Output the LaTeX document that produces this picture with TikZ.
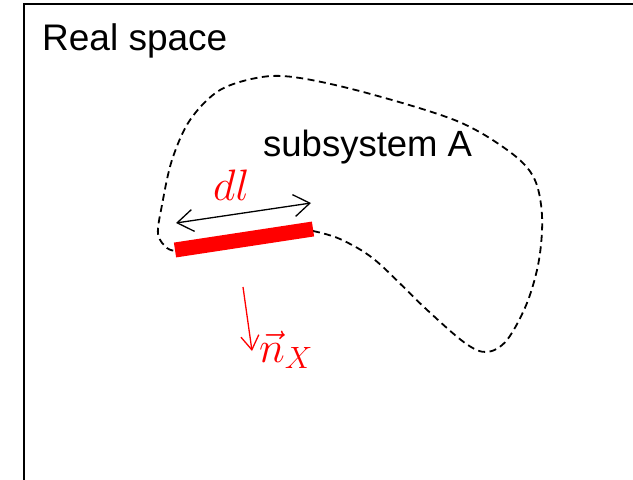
\RequirePackage{fix-cm}
\documentclass[tikz,border=0pt]{standalone}
\usepackage{fontspec}
\setmainfont{Liberation Sans}
\usetikzlibrary{arrows.meta}
\tikzset{
  lbl/.style={inner sep=0pt, anchor=base west, font=\fontsize{36.5}{40}\selectfont},
  mlbl/.style={inner sep=0pt, anchor=base west, text=red, font=\fontsize{44}{48}\selectfont},
  boundary/.style={dash pattern=on 7pt off 4.5pt, line width=1.8pt},
}
\begin{document}
\begin{tikzpicture}[x=1pt,y=-1pt]
\useasboundingbox (0,0) rectangle (633,480);
% frame
\coordinate (fb) at (24,490);
\coordinate (ftl) at (24,4);
\coordinate (ftr) at (645,4);
\draw[line width=2pt] (fb) -- (ftl) -- (ftr);
% labels
\node[lbl, font=\fontsize{37}{40}\selectfont] (real) at (42,50) {Real space};
\node[lbl] (sub) at (263,156) {subsystem A};
% boundary curve
\draw[boundary] plot[smooth, tension=0.55] coordinates {
 (313,231) (340,239) (375,260) (425,308) (465,343) (487,352)
 (507,340) (527,303) (539,260) (542,215) (534,178) (510,152)
 (457,121) (367,93) (300,78) (262,77) (220,90) (190,120) (172,160)
 (162,205) (158,234) (167,248) (176,251)};
% red bar
\coordinate (barL) at (175,250);
\coordinate (barR) at (313,229);
\draw[red, line width=15pt] (barL) -- (barR);
% dl arrow
\coordinate (dlL) at (176,223);
\coordinate (dlR) at (311,203);
\draw[line width=1.3pt, {Straight Barb[length=16pt,width=22pt]}-{Straight Barb[length=16pt,width=22pt]}] (dlL) -- (dlR);
\node[mlbl] (dl) at (213,200) {$dl$};
% normal arrow
\coordinate (nS) at (243,287);
\coordinate (nE) at (252,351);
\draw[red, line width=1.3pt, -{Straight Barb[length=14pt,width=18pt]}] (nS) -- (nE);
\node[mlbl] (nx) at (259,362) {$\vec{n}_X$};
\end{tikzpicture}
\end{document}
